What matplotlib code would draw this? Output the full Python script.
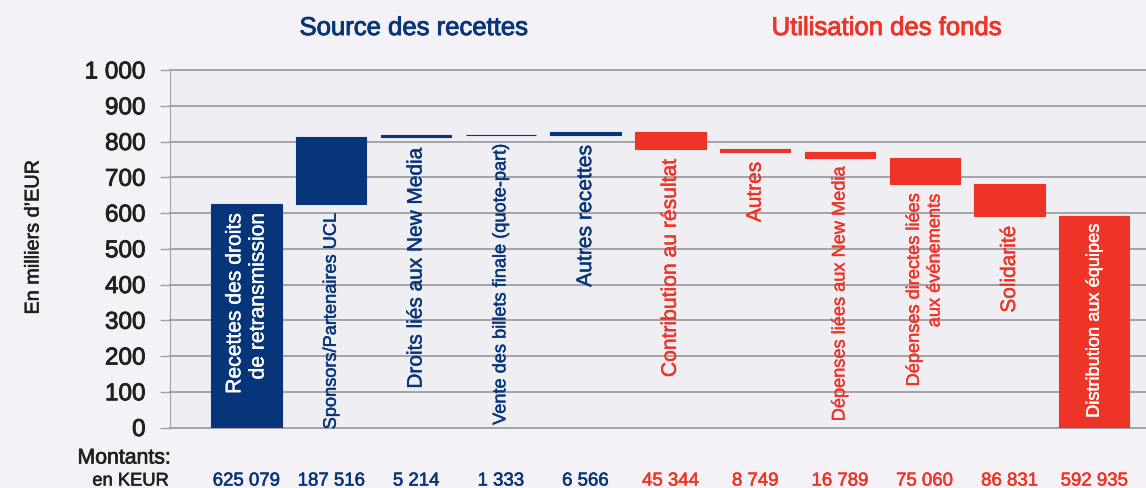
import numpy as np
import matplotlib.pyplot as plt
import matplotlib.patheffects as pe

plt.rcParams['font.family'] = ['Liberation Sans', 'DejaVu Sans']

# values in KEUR
labels = [
    'Recettes des droits\nde retransmission',
    'Sponsors/Partenaires UCL',
    'Droits liés aux New Media',
    'Vente des billets finale (quote-part)',
    'Autres recettes',
    'Contribution au résultat',
    'Autres',
    'Dépenses liées aux New Media',
    'Dépenses directes liées\naux événements',
    'Solidarité',
    'Distribution aux équipes',
]
amounts = [625079, 187516, 5214, 1333, 6566,
           45344, 8749, 16789, 75060, 86831, 592935]
amount_labels = ['625 079', '187 516', '5 214', '1 333', '6 566',
                 '45 344', '8 749', '16 789', '75 060', '86 831', '592 935']
# 'start' = total bar from 0, 'up' = income, 'down' = spending
kinds = ['start', 'up', 'up', 'up', 'up',
         'down', 'down', 'down', 'down', 'down', 'end']
yticks = [0, 100, 200, 300, 400, 500, 600, 700, 800, 900, 1000]
ytick_labels = ['0', '100', '200', '300', '400', '500', '600', '700',
                '800', '900', '1 000']

blue = '#07357a'
red = '#ee3426'
grey = '#a3a2a8'
dark = '#231f20'
label_sizes = [15.2, 13.1, 15.0, 13.1, 15.2,
               15.2, 15.0, 13.1, 13.1, 15.0, 13.1]


def medium(color, w=0.4):
    # fake a medium font weight with a thin outline
    return [pe.withStroke(linewidth=w, foreground=color)]


fig = plt.figure(figsize=(11.46, 4.88), dpi=100)
fig.patch.set_facecolor('#f4f1f7')
ax = fig.add_axes([170 / 1146, 60.5 / 488, 976 / 1146, 357.5 / 488])
ax.set_facecolor('#efeef3')

# waterfall geometry
vals = np.array(amounts) / 1000.0
bottoms, tops = [], []
level = 0.0
for v, k in zip(vals, kinds):
    if k in ('start', 'end'):
        b, t = 0.0, v
        level = v
    elif k == 'up':
        b, t = level, level + v
        level = t
    else:
        b, t = level - v, level
        level = b
    bottoms.append(b)
    tops.append(t)

x = np.arange(len(labels))
colors = [blue if k in ('start', 'up') else red for k in kinds]
ax.bar(x, np.array(tops) - np.array(bottoms), bottom=bottoms,
       width=0.83, color=colors, edgecolor=colors, linewidth=0.8, zorder=3)

for i, lab in enumerate(labels):
    inside = kinds[i] in ('start', 'end')
    if inside:
        y = tops[i] - 25
        c = 'white'
    else:
        y = bottoms[i] - 28
        c = colors[i]
    ax.text(x[i], y, lab, rotation=90, ha='center', va='top',
            color=c, fontsize=label_sizes[i], linespacing=1.28, zorder=4,
            multialignment='right', path_effects=medium(c, 0.3))

ax.set_xlim(-0.902, 10.61)
ax.set_ylim(0, 1000)
ax.set_yticks(yticks)
ax.set_yticklabels(ytick_labels)
ax.set_xticks([])
ax.grid(axis='y', color=grey, linewidth=1.4, zorder=1)
for g in ax.get_ygridlines():
    g.set_clip_on(False)
ax.tick_params(axis='y', length=7.5, width=1.0, color=grey, pad=10,
               labelsize=17.5, labelcolor=dark)
for t in ax.get_yticklabels():
    t.set_path_effects(medium(dark, 0.6))
for s in ['top', 'right']:
    ax.spines[s].set_visible(False)
ax.spines['left'].set_color(grey)
ax.spines['bottom'].set_color(grey)
ax.spines['bottom'].set_linewidth(1.4)

fig.text(33 / 1146, 1 - 237 / 488, 'En milliers d\u2019EUR', rotation=90,
         ha='center', va='center', fontsize=14.3, color=dark,
         path_effects=medium(dark, 0.4))

fig.text(414 / 1146, 1 - 28 / 488, 'Source des recettes', ha='center',
         va='center', fontsize=18.5, color=blue,
         path_effects=medium(blue, 0.65))
fig.text(887 / 1146, 1 - 28 / 488, 'Utilisation des fonds', ha='center',
         va='center', fontsize=18.5, color=red,
         path_effects=medium(red, 0.65))

fig.text(171 / 1146, 1 - 458 / 488, 'Montants:', ha='right', va='center',
         fontsize=15.3, color=dark, path_effects=medium(dark, 0.5))
fig.text(169 / 1146, 1 - 481 / 488, 'en KEUR', ha='right', va='center',
         fontsize=13.2, color=dark, path_effects=medium(dark, 0.4))
for i, t in enumerate(amount_labels):
    xp = ax.transData.transform((x[i], 0))[0] / fig.bbox.width
    fig.text(xp, 1 - 481 / 488, t, ha='center', va='center', fontsize=13.4,
             color=colors[i], path_effects=medium(colors[i], 0.4))

fig.savefig('out.png', dpi=100, facecolor=fig.get_facecolor())
